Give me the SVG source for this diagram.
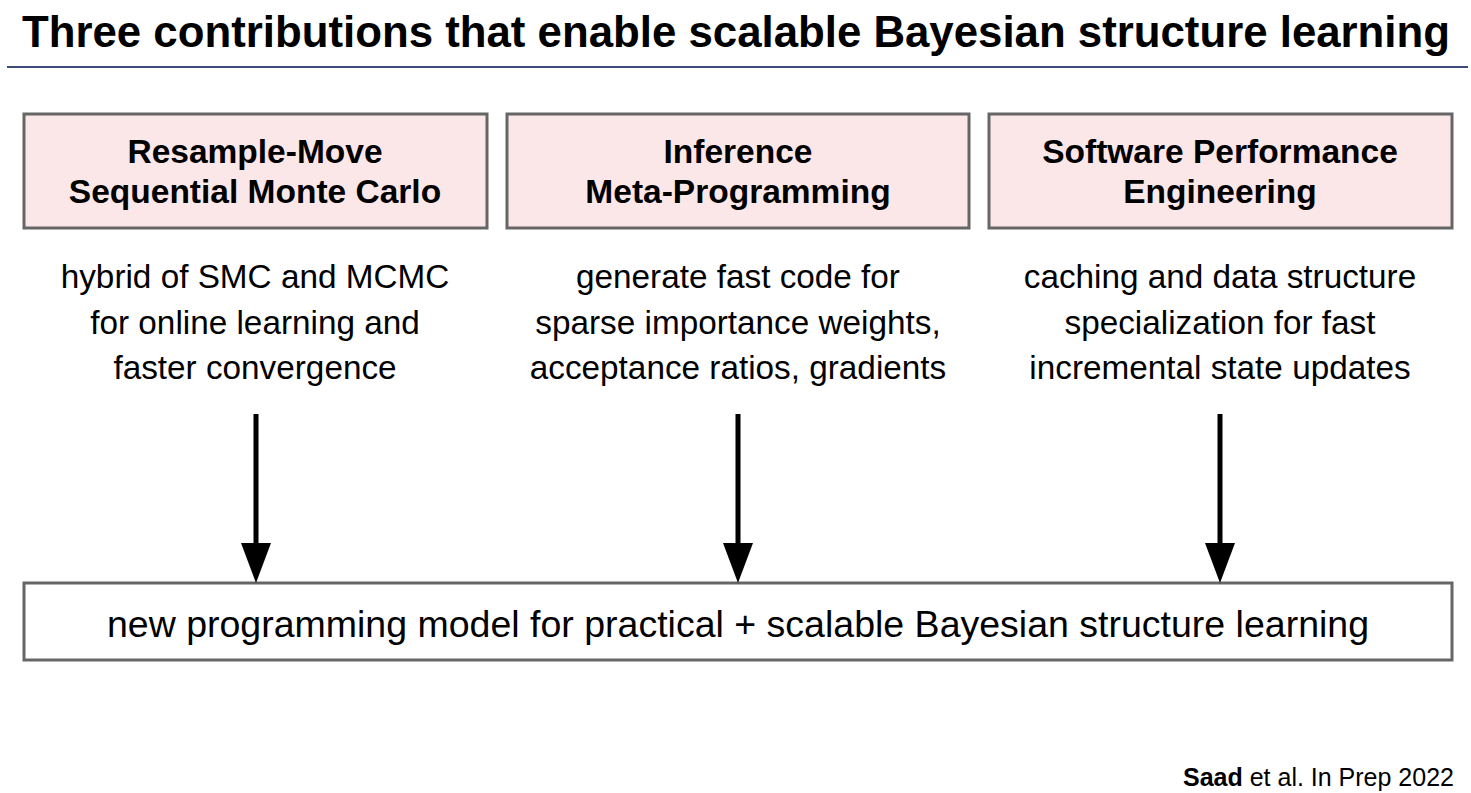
<svg xmlns="http://www.w3.org/2000/svg" width="1471" height="793" viewBox="0 0 1471 793">
<style>
.t{font-family:"Liberation Sans",Arial,sans-serif;fill:#000}
.hd{font-weight:bold;font-size:33.5px;text-anchor:middle}
.ds{font-size:33.3px;text-anchor:middle}
.box{fill:#fbe7e8;stroke:#666;stroke-width:3}
</style>
<rect width="1471" height="793" fill="#fff"/>
<text class="t" x="22" y="47" font-size="44" font-weight="bold" textLength="1428" lengthAdjust="spacingAndGlyphs">Three contributions that enable scalable Bayesian structure learning</text>
<line x1="7" y1="67" x2="1468" y2="67" stroke="#3b4a7a" stroke-width="2"/>
<g id="node1">
<rect class="box" x="24" y="114" width="463" height="114"/>
<text class="t hd" x="255" y="163">Resample-Move</text>
<text class="t hd" x="255" y="203">Sequential Monte Carlo</text>
<text class="t ds" x="255" y="288">hybrid of SMC and MCMC</text>
<text class="t ds" x="255" y="334">for online learning and</text>
<text class="t ds" x="255" y="379">faster convergence</text>
</g>
<g id="node2">
<rect class="box" x="507" y="114" width="462" height="114"/>
<text class="t hd" x="738" y="163">Inference</text>
<text class="t hd" x="738" y="203">Meta-Programming</text>
<text class="t ds" x="738" y="288">generate fast code for</text>
<text class="t ds" x="738" y="334">sparse importance weights,</text>
<text class="t ds" x="738" y="379">acceptance ratios, gradients</text>
</g>
<g id="node3">
<rect class="box" x="989" y="114" width="463" height="114"/>
<text class="t hd" x="1220" y="163">Software Performance</text>
<text class="t hd" x="1220" y="203">Engineering</text>
<text class="t ds" x="1220" y="288">caching and data structure</text>
<text class="t ds" x="1220" y="334">specialization for fast</text>
<text class="t ds" x="1220" y="379">incremental state updates</text>
</g>
<g id="node4">
<rect x="24" y="583" width="1428" height="77" fill="#fff" stroke="#666" stroke-width="3"/>
<text class="t" x="738" y="637" font-size="37.5" text-anchor="middle">new programming model for practical + scalable Bayesian structure learning</text>
</g>
<g id="connectors" fill="#000">
<rect x="253.5" y="414" width="5" height="132"/>
<path d="M241,543 L271,543 L256,583 Z"/>
<rect x="735.5" y="414" width="5" height="132"/>
<path d="M723,543 L753,543 L738,583 Z"/>
<rect x="1217.5" y="414" width="5" height="132"/>
<path d="M1205,543 L1235,543 L1220,583 Z"/>
</g>
<text class="t" x="1454" y="786" font-size="25" text-anchor="end"><tspan font-weight="bold">Saad</tspan> et al. In Prep 2022</text>
</svg>
